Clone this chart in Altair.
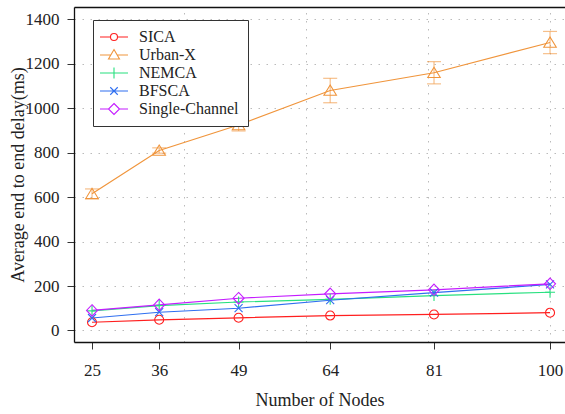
import altair as alt
import pandas as pd

nodes = [25, 36, 49, 64, 81, 100]
series = ["SICA", "Urban-X", "NEMCA", "BFSCA", "Single-Channel"]
sica = [37, 48, 57, 67, 72, 80]
urbanx = [615, 810, 925, 1080, 1160, 1296]
urbanx_err = [22, 12, 27, 55, 50, 50]
nemca = [88, 112, 128, 140, 157, 172]
bfsca = [56, 82, 100, 136, 170, 207]
single = [90, 115, 145, 165, 183, 210]
colors = ["#ff1f1f", "#f0953c", "#27e07f", "#2f6ff0", "#c41cff"]

y_ticks = [0, 200, 400, 600, 800, 1000, 1200, 1400]
x_grid = [40, 60, 80, 100]

# marker shapes (unit box) for the plot
marker_paths = [
    "M0.9,0A0.9,0.9 0 1,1 -0.9,0A0.9,0.9 0 1,1 0.9,0Z",
    "M0,-1.1L1.25,0.95L-1.25,0.95Z",
    "M-1,0L1,0M0,-1.1L0,1.1",
    "M-0.8,-0.8L0.8,0.8M-0.8,0.8L0.8,-0.8",
    "M0,-1.15L1.1,0L0,1.15L-1.1,0Z",
]
# legend symbols: marker with line segment
legend_paths = [
    "M-2.8,0L-0.7,0M0.7,0L2.8,0M0.7,0A0.7,0.7 0 1,1 -0.7,0A0.7,0.7 0 1,1 0.7,0Z",
    "M-2.8,0L-0.64,0M0.64,0L2.8,0M0,-1.1L1.1,0.8L-1.1,0.8Z",
    "M-2.8,0L2.8,0M0,-1.1L0,1.1",
    "M-2.8,0L2.8,0M-0.75,-0.75L0.75,0.75M-0.75,0.75L0.75,-0.75",
    "M-2.8,0L-1.1,0M1.1,0L2.8,0M0,-1.1L1.1,0L0,1.1L-1.1,0Z",
]

rows = []
vals = {"SICA": sica, "Urban-X": urbanx, "NEMCA": nemca, "BFSCA": bfsca, "Single-Channel": single}
for s in series:
    for i, n in enumerate(nodes):
        rows.append({"nodes": n, "delay": vals[s][i], "series": s})
df = pd.DataFrame(rows)

err_rows = []
for i, n in enumerate(nodes):
    err_rows.append({"nodes": n, "lo": urbanx[i] - urbanx_err[i], "hi": urbanx[i] + urbanx_err[i], "series": "Urban-X"})
edf = pd.DataFrame(err_rows)

FONT = "Liberation Serif"
xscale = alt.Scale(domain=[22.05, 102.45], nice=False, zero=False)
yscale = alt.Scale(domain=[-52, 1456], nice=False, zero=False)
cscale = alt.Scale(domain=series, range=colors)

base = alt.Chart(df)

lines = base.mark_line(strokeWidth=1.2, clip=True).encode(
    x=alt.X("nodes:Q", scale=xscale,
            axis=alt.Axis(values=nodes, title="Number of Nodes", grid=False, format="d",
                          tickSize=7, tickColor="#333", domainColor="#111", domainWidth=1.3,
                          labelFont=FONT, labelFontSize=17, labelColor="#222", labelPadding=13,
                          titleFont=FONT, titleFontSize=18, titleFontWeight="normal",
                          titleColor="#222", titlePadding=13)),
    y=alt.Y("delay:Q", scale=yscale,
            axis=alt.Axis(values=y_ticks, title="Average end to end delay(ms)", grid=True, format="d",
                          gridDash=[1.5, 6.5], gridColor="#bbbbbb", gridWidth=1,
                          tickSize=7, tickColor="#333", domainColor="#111", domainWidth=1.3,
                          labelFont=FONT, labelFontSize=17, labelColor="#222", labelPadding=8,
                          titleFont=FONT, titleFontSize=18, titleFontWeight="normal",
                          titleColor="#222", titleX=-56, titleBaseline="middle")),
    color=alt.Color("series:N", scale=cscale, legend=None),
    detail="series:N",
)

frame = base.mark_point(opacity=0).encode(
    x=alt.X("nodes:Q", scale=xscale,
            axis=alt.Axis(orient="top", values=x_grid, labels=False, ticks=False, title=None,
                          grid=True, gridDash=[1.5, 6.5], gridColor="#bbbbbb", gridWidth=1,
                          domainColor="#111", domainWidth=1.5)),
    y=alt.Y("delay:Q", scale=yscale, axis=None),
)

err_rule = alt.Chart(edf).mark_rule(strokeWidth=1.2, opacity=0.6).encode(
    x=alt.X("nodes:Q", scale=xscale, axis=None),
    y=alt.Y("lo:Q", scale=yscale, axis=None),
    y2="hi:Q",
    color=alt.Color("series:N", scale=cscale, legend=None),
)
err_caps = alt.Chart(edf).transform_fold(["lo", "hi"], as_=["k", "v"]).mark_tick(
    orient="horizontal", size=14, thickness=1.2, opacity=0.6
).encode(
    x=alt.X("nodes:Q", scale=xscale, axis=None),
    y=alt.Y("v:Q", scale=yscale, axis=None),
    color=alt.Color("series:N", scale=cscale, legend=None),
)

points = base.mark_point(filled=False, size=100, strokeWidth=1.1, opacity=1).encode(
    x=alt.X("nodes:Q", scale=xscale, axis=None),
    y=alt.Y("delay:Q", scale=yscale, axis=None),
    color=alt.Color("series:N", scale=cscale, legend=None),
    shape=alt.Shape("series:N", scale=alt.Scale(domain=series, range=marker_paths), legend=None),
)

leg = dict(title=None, orient="none", legendX=19, legendY=13,
           padding=9, fillColor="white", strokeColor="#333",
           symbolOpacity=1, symbolStrokeWidth=1.1, symbolSize=100,
           symbolOffset=4, labelOffset=17, rowPadding=2,
           labelFont=FONT, labelFontSize=16, labelColor="#222", labelLimit=300)

legend_layer = base.mark_point(filled=False, size=100, opacity=0).encode(
    x=alt.X("nodes:Q", scale=xscale, axis=None),
    y=alt.Y("delay:Q", scale=yscale, axis=None),
    color=alt.Color("series:N", scale=cscale, legend=alt.Legend(**leg)),
    shape=alt.Shape("series:N", scale=alt.Scale(domain=series, range=legend_paths),
                    legend=alt.Legend(**leg)),
)

chart = alt.layer(lines, frame, err_rule, err_caps, points, legend_layer).resolve_scale(
    shape="independent", color="independent"
).resolve_axis(x="independent", y="independent").properties(
    width=491, height=335,
    autosize=alt.AutoSizeParams(type="none"),
    padding={"left": 74, "top": 7, "right": 0, "bottom": 72},
).configure_view(stroke=None).configure(background="white", font=FONT)

chart.save("out.html", embed_options={"renderer": "svg", "actions": False})
